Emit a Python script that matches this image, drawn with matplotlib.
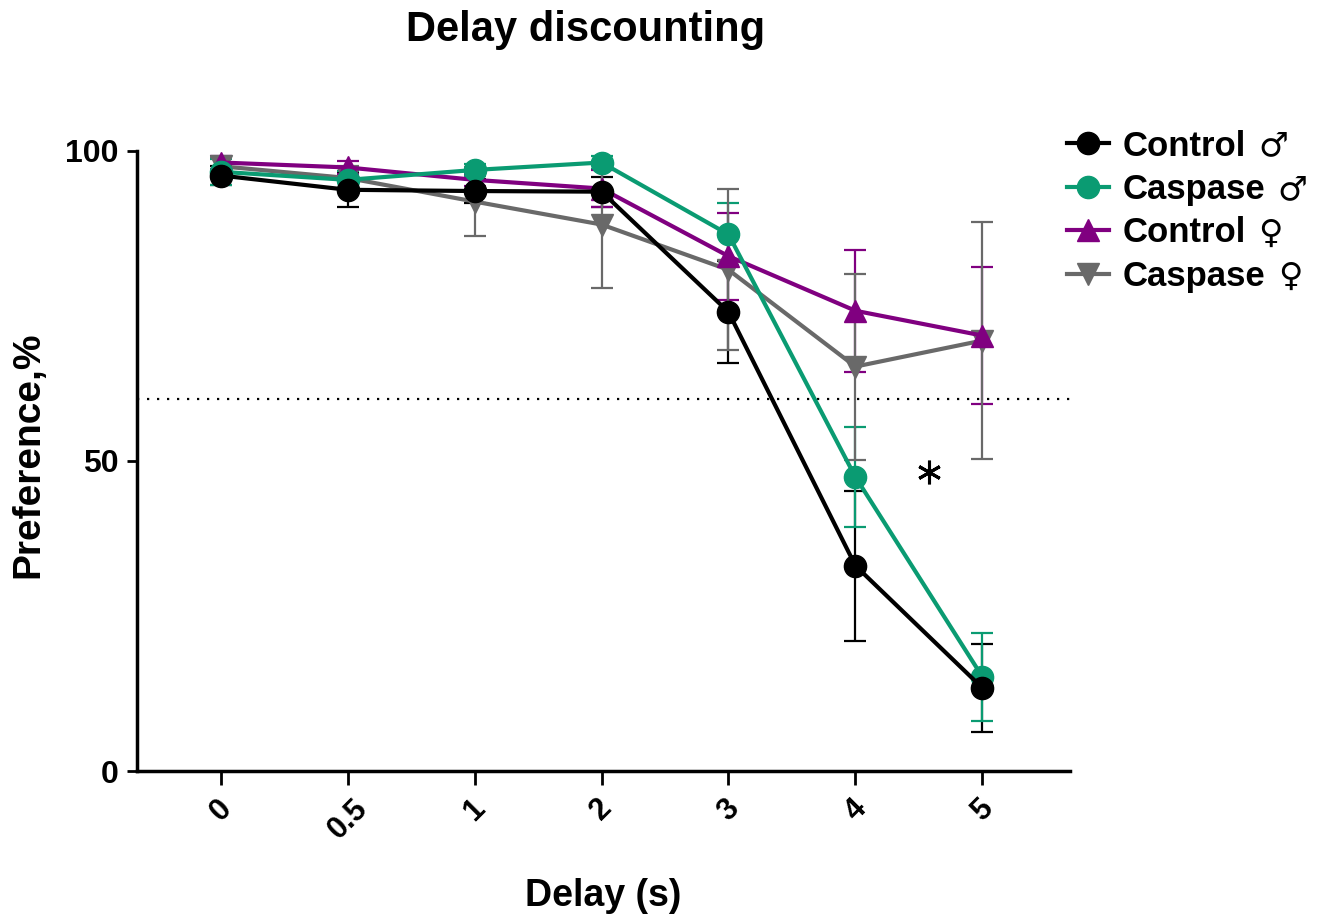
import matplotlib.pyplot as plt
import numpy as np

plt.rcParams['font.family'] = ['Liberation Sans', 'DejaVu Sans']
plt.rcParams['font.weight'] = 'bold'

delays = ['0', '0.5', '1', '2', '3', '4', '5']

control_m = [96.0, 93.7, 93.5, 93.4, 74.0, 33.1, 13.4]
control_m_err = [1.5, 2.7, 2.0, 2.4, 8.2, 12.1, 7.1]

caspase_m = [96.6, 95.3, 96.9, 98.1, 86.5, 47.4, 15.2]
caspase_m_err = [2.1, 1.5, 1.0, 1.0, 5.0, 8.0, 7.1]

control_f = [98.1, 97.3, 95.3, 93.9, 83.0, 74.2, 70.2]
control_f_err = [1.0, 1.0, 1.0, 3.0, 7.0, 9.8, 11.0]

caspase_f = [97.5, 95.6, 91.8, 88.1, 80.8, 65.2, 69.4]
caspase_f_err = [1.5, 2.0, 5.5, 10.2, 13.0, 15.0, 19.1]

threshold = 60
star_pos = (5.58, 48.2)

series = [
    ('Control', '♂', control_m, control_m_err, 'black', 'o'),
    ('Caspase', '♂', caspase_m, caspase_m_err, '#0a9b72', 'o'),
    ('Control', '♀', control_f, control_f_err, '#800080', '^'),
    ('Caspase', '♀', caspase_f, caspase_f_err, '#696969', 'v'),
]

fig = plt.figure(figsize=(13.25, 9.19), dpi=100)
ax = fig.add_axes([0.1034, 0.161, 0.7041, 0.675])

x = np.arange(len(delays))
handles = []
# draw last series first so Control male ends on top
for i, (group, sex, y, err, color, marker) in reversed(list(enumerate(series))):
    ax.errorbar(x, y, yerr=err, fmt='none', ecolor=color, elinewidth=1.6,
                capsize=8, capthick=1.6, zorder=2 + i * 0.01)
    line, = ax.plot(x, y, color=color, marker=marker, markersize=16,
                    linewidth=3, zorder=3 + (3 - i))
    handles.insert(0, line)

ax.axhline(threshold, color='black', linestyle=(0, (1, 3.5)), linewidth=1.6, zorder=1)

# significance asterisk
ax.plot(*star_pos, marker=(6, 2, 0), markersize=17, markeredgewidth=2.2,
        color='black', linestyle='none')

ax.set_xlim(-0.66, 6.69)
ax.set_ylim(0, 100)
ax.set_yticks([0, 50, 100])
ax.set_xticks(x)
ax.set_xticklabels(delays, rotation=45, ha='center', va='top', fontsize=22, fontweight='bold')
ax.tick_params(axis='y', length=7, width=2, labelsize=23, pad=6)
ax.tick_params(axis='x', length=10, width=2, pad=6)
for lab in ax.get_yticklabels():
    lab.set_fontweight('bold')

for s in ['top', 'right']:
    ax.spines[s].set_visible(False)
for s in ['left', 'bottom']:
    ax.spines[s].set_linewidth(2.5)

ax.set_xlabel('Delay (s)', fontsize=27, fontweight='bold', labelpad=24)
ax.set_ylabel('Preference,%', fontsize=28, fontweight='bold')
ax.yaxis.set_label_coords(-0.097, 0.51)

fig.text(0.442, 0.967, 'Delay discounting', fontsize=30, fontweight='bold',
         ha='center', va='center')

leg = fig.legend(handles, [s[0] for s in series], loc='upper left',
                 bbox_to_anchor=(0.782, 0.893), frameon=False,
                 handlelength=1.2, handletextpad=0.4, labelspacing=0.3,
                 prop={'weight': 'bold', 'size': 25})

# sex symbols after each legend label, drawn larger than the font's own glyph size
fig.canvas.draw()
renderer = fig.canvas.get_renderer()
for txt, s in zip(leg.get_texts(), series):
    bb = txt.get_window_extent(renderer)
    fx = (bb.x1 + 12) / fig.bbox.width
    fy = (bb.y0 + bb.y1) / 2 / fig.bbox.height
    fig.text(fx, fy, s[1], fontsize=24, family='DejaVu Sans', ha='left',
             va='center', fontweight='normal')

fig.savefig('out.png', dpi=100)
